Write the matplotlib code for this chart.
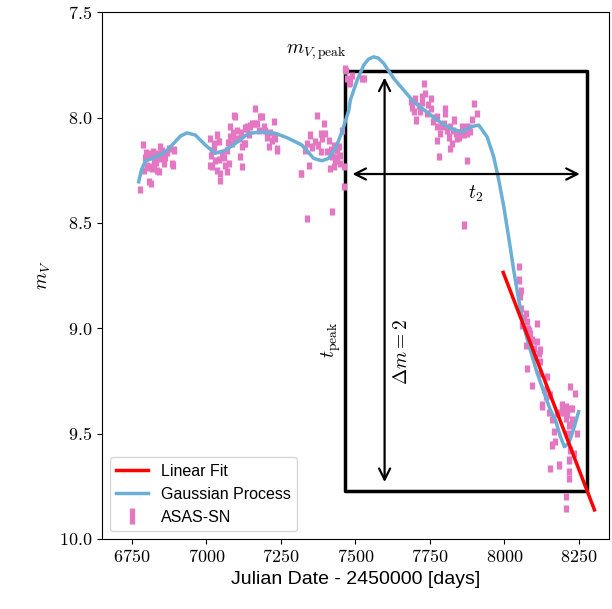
import numpy as np
import matplotlib
matplotlib.use("Agg")
import matplotlib.pyplot as plt
from matplotlib.ticker import FuncFormatter

plt.rcParams['mathtext.fontset'] = 'cm'
plt.rcParams['font.family'] = ['Liberation Sans', 'DejaVu Sans']

# ASAS-SN photometry (JD - 2450000, V mag)
jd = [6776, 6788, 6790, 6795, 6801, 6801, 6806, 6810, 6812, 6815, 6818, 6823,
      6829, 6835, 6835, 6840, 6846, 6846, 6851, 6857, 6862, 6874, 6885, 6888,
      6890, 6893, 6798, 6820, 6830, 6843, 6855, 6868, 6808, 6826,
      7013, 7013, 7019, 7019, 7025, 7030, 7036, 7036, 7041, 7047, 7047, 7053,
      7064, 7069, 7069, 7075, 7081, 7086, 7092, 7097, 7103, 7114, 7120, 7120,
      7125, 7131, 7137, 7137, 7153, 7159, 7164, 7181, 7187, 7192, 7204, 7209,
      7226, 7226, 7231, 7237, 7237, 7017, 7027, 7044, 7058, 7072, 7079, 7089,
      7095, 7108, 7117, 7128, 7143, 7148, 7170, 7176, 7198, 7215, 7220,
      7316, 7319, 7332, 7336, 7338, 7343, 7349, 7366, 7371, 7383, 7383, 7394,
      7399, 7405, 7416, 7422, 7422, 7427, 7427, 7433, 7439, 7439, 7444, 7455,
      7461, 7461, 7466, 7470, 7472, 7477, 7483, 7489, 7522, 7528, 7355, 7376,
      7388, 7410, 7418, 7430, 7447, 7450,
      7685, 7696, 7701, 7705, 7713, 7722, 7729, 7735, 7741, 7752, 7752, 7774,
      7774, 7774, 7780, 7785, 7796, 7802, 7802, 7813, 7819, 7819, 7824, 7830,
      7836, 7847, 7858, 7863, 7875, 7875, 7875, 7886, 7897, 7908, 7690, 7716,
      7725, 7745, 7760, 7768, 7790, 7808, 7826, 7841, 7852, 7866, 7880, 7892,
      8048, 8048, 8054, 8056, 8059, 8071, 8071, 8076, 8076, 8082, 8087, 8093,
      8093, 8098, 8109, 8109, 8115, 8121, 8121, 8121, 8127, 8127, 8138, 8143,
      8154, 8154, 8160, 8160, 8166, 8171, 8177, 8182, 8194, 8194, 8205, 8205,
      8205, 8205, 8208, 8216, 8216, 8216, 8216, 8221, 8221, 8221, 8227, 8227,
      8233, 8238, 8244, 8052, 8065, 8078, 8100, 8132, 8148, 8188, 8199, 8211,
      8230, 8212]
mag = [8.341, 8.126, 8.250, 8.190, 8.186, 8.226, 8.305, 8.170, 8.178, 8.315, 8.242, 8.202,
       8.186, 8.170, 8.250, 8.258, 8.139, 8.194, 8.155, 8.218, 8.190, 8.147, 8.218, 8.225,
       8.155, 8.151, 8.165, 8.160, 8.215, 8.175, 8.185, 8.165, 8.235, 8.228,
       8.099, 8.226, 8.155, 8.234, 8.123, 8.202, 8.083, 8.250, 8.115, 8.265, 8.297, 8.170,
       8.226, 8.155, 8.258, 8.218, 8.044, 8.123, 7.989, 7.997, 8.060, 8.186, 8.234, 8.139,
       8.123, 8.123, 8.044, 8.052, 8.028, 8.028, 7.957, 7.997, 7.997, 8.044, 8.092, 8.139,
       8.020, 8.092, 8.099, 8.147, 8.155, 8.180, 8.140, 8.200, 8.190, 8.120, 8.090, 8.070,
       8.100, 8.100, 8.070, 8.050, 8.080, 8.040, 8.030, 8.060, 8.060, 8.070, 8.110,
       8.265, 8.265, 8.155, 8.479, 8.123, 8.226, 8.083, 8.115, 7.989, 8.075, 8.163, 8.028,
       8.075, 8.163, 8.242, 8.186, 8.447, 8.131, 8.234, 8.202, 8.155, 8.202, 8.139, 8.060,
       8.329, 8.234, 7.767, 7.775, 7.815, 7.838, 7.831, 7.799, 7.815, 7.815, 8.140, 8.130,
       8.100, 8.110, 8.150, 8.190, 8.180, 8.220,
       7.925, 7.973, 7.909, 8.012, 7.941, 7.902, 7.838, 7.886, 7.981, 7.909, 7.957, 7.997,
       8.044, 8.107, 8.186, 8.075, 8.028, 7.981, 7.957, 8.092, 8.044, 8.147, 8.123, 8.012,
       8.075, 8.092, 8.044, 8.510, 8.044, 8.075, 8.202, 8.068, 7.933, 7.981, 7.950, 7.970,
       7.930, 7.940, 8.020, 8.000, 8.040, 8.060, 8.060, 8.100, 8.070, 8.080, 8.050, 8.010,
       8.708, 8.771, 8.906, 8.819, 8.985, 8.929, 9.080, 8.969, 9.190, 9.009, 9.024, 9.056,
       9.270, 9.096, 8.977, 9.064, 9.119, 9.103, 9.159, 9.214, 9.364, 9.372, 9.325, 9.230,
       9.317, 9.665, 9.435, 9.554, 9.491, 9.538, 9.404, 9.649, 9.364, 9.372, 9.372, 9.388,
       9.428, 9.799, 9.854, 9.459, 9.625, 9.681, 9.712, 9.278, 9.380, 9.578, 9.380, 9.435,
       9.594, 9.309, 9.499, 8.850, 8.950, 9.000, 9.140, 9.290, 9.400, 9.400, 9.400, 9.410,
       9.450, 9.500]
mag_err = 0.017

# Gaussian process mean curve
gp_x = [6773, 6782, 6795, 6829, 6862, 6890, 6913, 6935, 6963, 6997, 7030, 7064,
        7097, 7142, 7187, 7232, 7276, 7321, 7360, 7388, 7410, 7433, 7455, 7478,
        7483, 7506, 7528, 7544, 7561, 7577, 7595, 7629, 7662, 7696, 7729, 7774,
        7819, 7858, 7886, 7914, 7942, 7964, 7981, 7998, 8020, 8031, 8048, 8065,
        8087, 8110, 8138, 8154, 8171, 8188, 8201, 8216, 8231, 8249]
gp_y = [8.305, 8.250, 8.207, 8.188, 8.164, 8.123, 8.088, 8.073, 8.083, 8.131, 8.170, 8.155,
        8.123, 8.075, 8.068, 8.075, 8.099, 8.131, 8.194, 8.205, 8.194, 8.147, 8.068, 7.965,
        7.917, 7.823, 7.751, 7.723, 7.712, 7.718, 7.743, 7.815, 7.870, 7.926, 7.962, 8.012,
        8.052, 8.068, 8.044, 8.036, 8.092, 8.186, 8.297, 8.424, 8.620, 8.724, 8.866, 8.993,
        9.103, 9.214, 9.325, 9.388, 9.435, 9.515, 9.562, 9.546, 9.483, 9.396]

# linear fit to the decline
fit_x = [7996, 8302]
fit_y = [8.735, 9.862]

# t_peak / t2 box and arrows
box_x = [7465, 8277]
box_y = [7.78, 9.77]
vert_x = 7598
vert_y = [7.81, 9.73]
horiz_y = 8.268
horiz_x = [7490, 8253]

fig = plt.figure(figsize=(6.12, 6.09), dpi=100)
ax = fig.add_axes([0.1667, 0.115, 0.828, 0.865])

ax.errorbar(jd, mag, yerr=mag_err, fmt='.', ms=4, color='#e377c2',
            elinewidth=3.8, capsize=0, label='ASAS-SN', zorder=2)
ax.plot(gp_x, gp_y, color='#6baed6', lw=2.5, label='Gaussian Process', zorder=3)
ax.plot(fit_x, fit_y, color='red', lw=2.5, label='Linear Fit', zorder=4)

ax.plot([box_x[0], box_x[1], box_x[1], box_x[0], box_x[0]],
        [box_y[0], box_y[0], box_y[1], box_y[1], box_y[0]],
        color='k', lw=2.5, zorder=1)

ax.annotate('', xy=(vert_x, vert_y[0]), xytext=(vert_x, vert_y[1]),
            arrowprops=dict(arrowstyle='<->', color='k', lw=1.6,
                            mutation_scale=20, shrinkA=0, shrinkB=0))
ax.annotate('', xy=(horiz_x[0], horiz_y), xytext=(horiz_x[1], horiz_y),
            arrowprops=dict(arrowstyle='<->', color='k', lw=1.6,
                            mutation_scale=20, shrinkA=0, shrinkB=0))

ax.text(7369, 7.69, r'$m_{V,\mathrm{peak}}$', fontsize=14, ha='center', va='center')
ax.text(7903, 8.363, r'$t_2$', fontsize=14, ha='center', va='center')
ax.text(7419, 9.056, r'$t_\mathrm{peak}$', fontsize=14, ha='center', va='center',
        rotation=90)
ax.text(7656, 9.113, r'$\Delta m = 2$', fontsize=14, ha='center', va='center',
        rotation=90)

ax.set_xlim(6650, 8350)
ax.set_ylim(10.0, 7.5)
ax.set_xticks(np.arange(6750, 8251, 250))
ax.set_yticks(np.arange(7.5, 10.01, 0.5))
ax.xaxis.set_major_formatter(FuncFormatter(lambda v, p: '$%d$' % v))
ax.yaxis.set_major_formatter(FuncFormatter(lambda v, p: '$%.1f$' % v))
ax.tick_params(labelsize=13)

ax.set_xlabel('Julian Date - 2450000 [days]', fontsize=14)
ax.set_ylabel(r'$m_V$', fontsize=14)

handles, labels = ax.get_legend_handles_labels()
order = [labels.index('Linear Fit'), labels.index('Gaussian Process'), labels.index('ASAS-SN')]
ax.legend([handles[i] for i in order], [labels[i] for i in order],
          loc='lower left', fontsize=11.5)

fig.savefig('out.png', dpi=100)
